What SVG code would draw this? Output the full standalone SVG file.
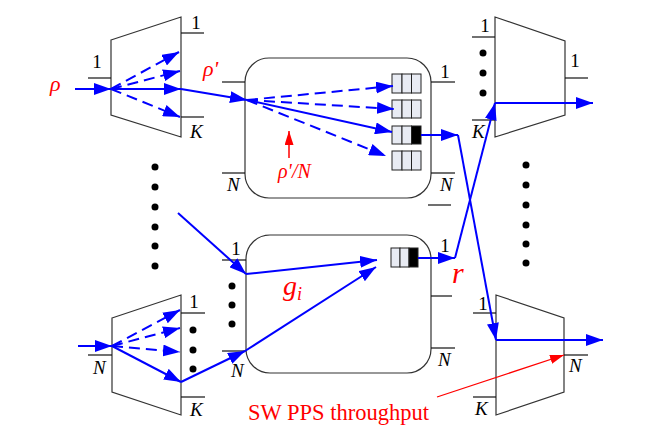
<svg xmlns="http://www.w3.org/2000/svg" width="646" height="427" viewBox="0 0 646 427">
<defs>
<marker id="ab" markerUnits="userSpaceOnUse" markerWidth="17" markerHeight="12" refX="17" refY="6" orient="auto"><path d="M0,0 L17,6 L0,12 z" fill="#0000ff"/></marker>
<marker id="ar" markerUnits="userSpaceOnUse" markerWidth="14" markerHeight="9" refX="14" refY="4.5" orient="auto"><path d="M0,0 L14,4.5 L0,9 z" fill="#ff0000"/></marker>
</defs>
<style>
.sh{fill:none;stroke:#333;stroke-width:1.2}
.ln{stroke:#111;stroke-width:1.2}
.bl{fill:none;stroke:#0000ff;stroke-width:2}
.bd{fill:none;stroke:#0000ff;stroke-width:2;stroke-dasharray:11,6}
text{font-family:'Liberation Serif','DejaVu Serif',serif}
.lb{font-size:19px;fill:#000}
.it{font-style:italic}
.rd{fill:#ff0000}
.q{fill:#e8ebf3;stroke:#222;stroke-width:1}
.qb{fill:#000;stroke:#222;stroke-width:1}
.dot{fill:#000}
</style>

<g id="demux-top">
<polygon class="sh" points="111,40 181,17 181,137 111,115"/>
<line class="ln" x1="88" y1="78" x2="111" y2="78"/>
<line class="ln" x1="181" y1="33" x2="204" y2="33"/>
<line class="ln" x1="181" y1="117" x2="204" y2="117"/>
<text class="lb" font-family="Liberation Serif" x="97" y="68" text-anchor="middle">1</text>
<text class="lb" font-family="Liberation Serif" x="196" y="29" text-anchor="middle">1</text>
<text class="lb it" font-family="Liberation Serif" x="190" y="138">K</text>
</g>

<g id="demux-bottom">
<polygon class="sh" points="112,318 181,295 181,415 112,392"/>
<line class="ln" x1="88" y1="355" x2="112" y2="355"/>
<line class="ln" x1="181" y1="313" x2="205" y2="313"/>
<line class="ln" x1="181" y1="397" x2="205" y2="397"/>
<text class="lb it" font-family="Liberation Serif" x="93" y="374">N</text>
<text class="lb" font-family="Liberation Serif" x="194" y="308" text-anchor="middle">1</text>
<text class="lb it" font-family="Liberation Serif" x="190" y="416">K</text>
<circle class="dot" cx="193" cy="330" r="3.5"/>
<circle class="dot" cx="193" cy="350" r="3.5"/>
<circle class="dot" cx="193" cy="369" r="3.5"/>
</g>

<g id="switch-top">
<rect class="sh" x="245" y="58" width="186" height="140" rx="24" ry="24"/>
<line class="ln" x1="222" y1="82" x2="245" y2="82"/>
<line class="ln" x1="222" y1="173" x2="245" y2="173"/>
<line class="ln" x1="431" y1="82" x2="455" y2="82"/>
<line class="ln" x1="431" y1="173" x2="455" y2="173"/>
<line class="ln" x1="428" y1="205" x2="451" y2="205"/>
<text class="lb it" font-family="Liberation Serif" x="227" y="191">N</text>
<text class="lb" font-family="Liberation Serif" x="445" y="78" text-anchor="middle">1</text>
<text class="lb it" font-family="Liberation Serif" x="440" y="191">N</text>
<g id="q1"><rect class="q" x="392" y="74" width="10" height="19"/><rect class="q" x="402" y="74" width="9.5" height="19"/><rect class="q" x="411.5" y="74" width="9.5" height="19"/></g>
<g id="q2"><rect class="q" x="392" y="100" width="10" height="18"/><rect class="q" x="402" y="100" width="9.5" height="18"/><rect class="q" x="411.5" y="100" width="9.5" height="18"/></g>
<g id="q3"><rect class="q" x="392" y="126" width="10" height="18"/><rect class="q" x="402" y="126" width="9.5" height="18"/><rect class="qb" x="411.5" y="126" width="9.5" height="18"/></g>
<g id="q4"><rect class="q" x="392" y="151" width="10" height="19"/><rect class="q" x="402" y="151" width="9.5" height="19"/><rect class="q" x="411.5" y="151" width="9.5" height="19"/></g>
</g>

<g id="switch-bottom">
<rect class="sh" x="246" y="235" width="185" height="138" rx="24" ry="24"/>
<line class="ln" x1="222" y1="260" x2="246" y2="260"/>
<line class="ln" x1="222" y1="351" x2="246" y2="351"/>
<line class="ln" x1="431" y1="258" x2="455" y2="258"/>
<line class="ln" x1="431" y1="296" x2="452" y2="296"/>
<line class="ln" x1="431" y1="348" x2="455" y2="348"/>
<text class="lb" font-family="Liberation Serif" x="236" y="255" text-anchor="middle">1</text>
<text class="lb it" font-family="Liberation Serif" x="231" y="377">N</text>
<text class="lb" font-family="Liberation Serif" x="445" y="252" text-anchor="middle">1</text>
<text class="lb it" font-family="Liberation Serif" x="438" y="366">N</text>
<circle class="dot" cx="232" cy="286" r="3.5"/>
<circle class="dot" cx="232" cy="305" r="3.5"/>
<circle class="dot" cx="232" cy="324" r="3.5"/>
<g id="q5"><rect class="q" x="391" y="248" width="9" height="19"/><rect class="q" x="400" y="248" width="9" height="19"/><rect class="qb" x="409" y="248" width="9" height="19"/></g>
</g>

<g id="mux-top">
<polygon class="sh" points="495,17 565,41 565,115 495,137"/>
<line class="ln" x1="472" y1="37" x2="495" y2="37"/>
<line class="ln" x1="472" y1="120" x2="495" y2="120"/>
<line class="ln" x1="565" y1="78" x2="588" y2="78"/>
<text class="lb" font-family="Liberation Serif" x="485" y="32" text-anchor="middle">1</text>
<text class="lb it" font-family="Liberation Serif" x="472" y="138">K</text>
<text class="lb" font-family="Liberation Serif" x="575" y="67" text-anchor="middle">1</text>
<circle class="dot" cx="483" cy="53" r="3.5"/>
<circle class="dot" cx="483" cy="73" r="3.5"/>
<circle class="dot" cx="483" cy="93" r="3.5"/>
</g>

<g id="mux-bottom">
<polygon class="sh" points="496,295 564,318 564,392 496,415"/>
<line class="ln" x1="473" y1="313" x2="496" y2="313"/>
<line class="ln" x1="473" y1="397" x2="496" y2="397"/>
<line class="ln" x1="564" y1="355" x2="588" y2="355"/>
<text class="lb" font-family="Liberation Serif" x="483" y="310" text-anchor="middle">1</text>
<text class="lb it" font-family="Liberation Serif" x="475" y="415">K</text>
<text class="lb it" font-family="Liberation Serif" x="569" y="372">N</text>
</g>

<g id="dots-left">
<circle class="dot" cx="155" cy="167" r="3.5"/>
<circle class="dot" cx="155" cy="187" r="3.5"/>
<circle class="dot" cx="155" cy="207" r="3.5"/>
<circle class="dot" cx="155" cy="227" r="3.5"/>
<circle class="dot" cx="155" cy="246" r="3.5"/>
<circle class="dot" cx="155" cy="266" r="3.5"/>
</g>
<g id="dots-right">
<circle class="dot" cx="526" cy="165" r="3.5"/>
<circle class="dot" cx="526" cy="185" r="3.5"/>
<circle class="dot" cx="526" cy="205" r="3.5"/>
<circle class="dot" cx="526" cy="225" r="3.5"/>
<circle class="dot" cx="526" cy="244" r="3.5"/>
<circle class="dot" cx="526" cy="263" r="3.5"/>
</g>

<g id="connectors">
<line class="bl" x1="75" y1="89" x2="111" y2="89" marker-end="url(#ab)"/>
<line class="bd" x1="111" y1="89" x2="179" y2="52" marker-end="url(#ab)"/>
<line class="bd" x1="111" y1="89" x2="180" y2="71" marker-end="url(#ab)"/>
<line class="bl" x1="111" y1="89" x2="181" y2="89" marker-end="url(#ab)"/>
<line class="bd" x1="111" y1="89" x2="180" y2="117" marker-end="url(#ab)"/>
<line class="bl" x1="181" y1="89" x2="247" y2="100" marker-end="url(#ab)"/>
<line class="bd" x1="247" y1="100" x2="393" y2="86" marker-end="url(#ab)"/>
<line class="bd" x1="247" y1="100" x2="394" y2="109" marker-end="url(#ab)"/>
<line class="bl" x1="247" y1="100" x2="392" y2="132" marker-end="url(#ab)"/>
<line class="bd" x1="247" y1="100" x2="386" y2="156" marker-end="url(#ab)"/>
<line class="bl" x1="421" y1="135" x2="458" y2="135" marker-end="url(#ab)"/>
<line class="bl" x1="458" y1="135" x2="496" y2="340" marker-end="url(#ab)"/>
<line class="bl" x1="496" y1="340" x2="603" y2="340" marker-end="url(#ab)"/>

<line class="bl" x1="78" y1="346" x2="112" y2="346" marker-end="url(#ab)"/>
<line class="bd" x1="112" y1="346" x2="180" y2="310" marker-end="url(#ab)"/>
<line class="bd" x1="112" y1="346" x2="180" y2="328" marker-end="url(#ab)"/>
<line class="bd" x1="112" y1="346" x2="180" y2="352" marker-end="url(#ab)"/>
<line class="bl" x1="112" y1="346" x2="181" y2="382" marker-end="url(#ab)"/>
<line class="bl" x1="181" y1="382" x2="245" y2="351" marker-end="url(#ab)"/>
<line class="bl" x1="245" y1="351" x2="376" y2="267" marker-end="url(#ab)"/>
<line class="bl" x1="178" y1="213" x2="246" y2="274" marker-end="url(#ab)"/>
<line class="bl" x1="246" y1="274" x2="377" y2="260" marker-end="url(#ab)"/>
<line class="bl" x1="418" y1="258" x2="455" y2="258" marker-end="url(#ab)"/>
<line class="bl" x1="455" y1="258" x2="495" y2="103" marker-end="url(#ab)"/>
<line class="bl" x1="495" y1="103" x2="593" y2="103" marker-end="url(#ab)"/>

<line x1="289" y1="158" x2="289" y2="131" stroke="#ff0000" stroke-width="1.5" marker-end="url(#ar)"/>
<line x1="437" y1="397" x2="564" y2="355" stroke="#ff0000" stroke-width="1.3" marker-end="url(#ar)"/>
</g>

<g id="labels">
<text class="rd it" font-family="Liberation Serif" x="50" y="91" font-size="22">ρ</text>
<text class="rd it" font-family="Liberation Serif" x="203" y="76" font-size="22">ρ'</text>
<text class="rd it" font-family="Liberation Serif" x="278" y="178" font-size="20">ρ'/N</text>
<text class="rd it" font-family="Liberation Serif" x="283" y="295" font-size="28">g<tspan font-size="18" dy="5">i</tspan></text>
<text class="rd it" font-family="Liberation Serif" x="452" y="283" font-size="30">r</text>
<text class="rd" font-family="Liberation Serif" x="248" y="420" font-size="22.5">SW PPS throughput</text>
</g>
</svg>
